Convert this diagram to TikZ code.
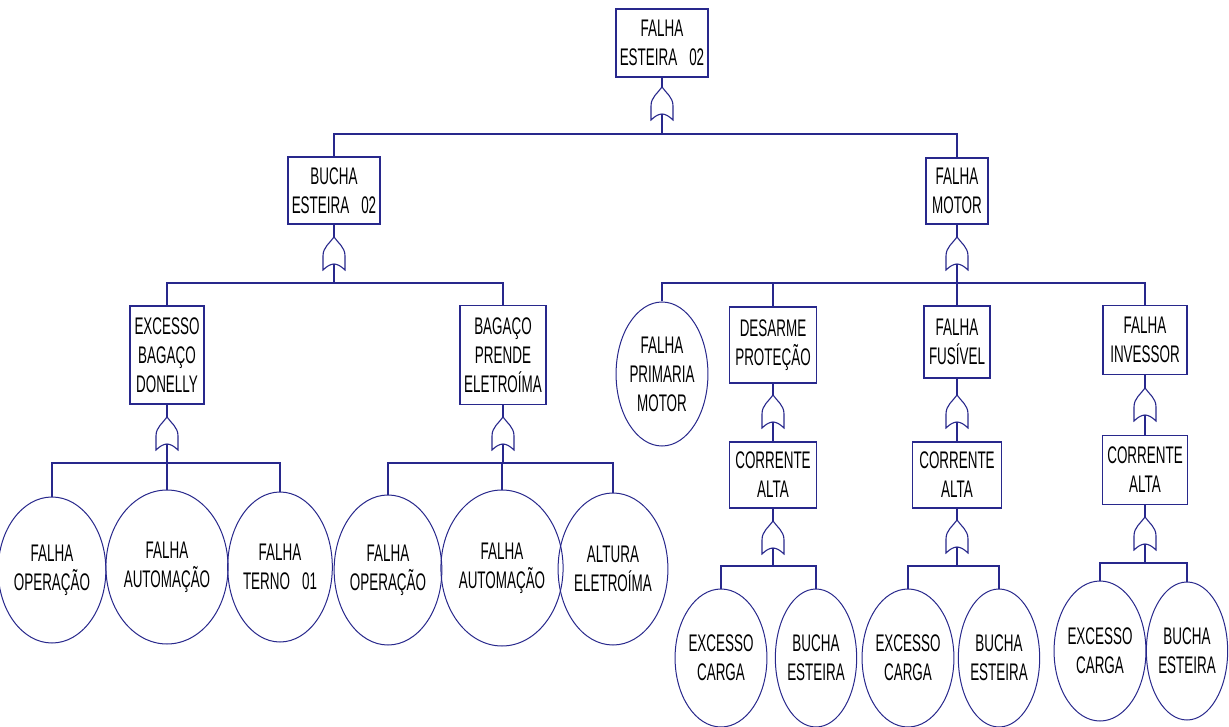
\documentclass[tikz,border=0pt]{standalone}
\usepackage{fontspec}
\setmainfont{Liberation Sans}[FakeStretch=0.56]
\usetikzlibrary{shapes.geometric}
\definecolor{lc}{RGB}{40,40,140}
\tikzset{
  txt/.style={font=\fontsize{24}{29}\selectfont, text=black, align=center, inner sep=0pt},
  box/.style={txt, rectangle, draw=lc, line width=1.3pt},
  ell/.style={txt, ellipse, draw=lc, line width=1pt},
  conn/.style={draw=lc, line width=1.3pt},
  gateline/.style={draw=lc, line width=1.1pt},
  orgate/.pic={
    \draw[gateline] (0,0) .. controls (-4,6) and (-11,10) .. (-11,19) -- (-11,33)
      .. controls (-7,29) and (-3,27) .. (0,27) .. controls (3,27) and (7,29) .. (11,33)
      -- (11,19) .. controls (11,10) and (4,6) .. (0,0) -- cycle;
    \coordinate (-top) at (0,0);
    \coordinate (-bot) at (0,27);
  }
}
\begin{document}
\begin{tikzpicture}[x=1pt,y=-1pt]
\useasboundingbox[fill=white] (0,0) rectangle (1229,727);

% level 0
\node[box, minimum width=92pt, minimum height=68pt] (T) at (662,43) {FALHA\\ESTEIRA\hspace{0.5em}02};
\pic (G0) at (662,87) {orgate};
\coordinate (b0) at (662,134);

% level 1
\node[box, minimum width=92pt, minimum height=67pt] (B) at (334,190.5) {BUCHA\\ESTEIRA\hspace{0.5em}02};
\node[box, minimum width=62pt, minimum height=66pt] (M) at (957,191) {FALHA\\MOTOR};
\pic (G1) at (334,237) {orgate};
\pic (G2) at (957,237) {orgate};
\coordinate (b1) at (334,283);
\coordinate (b2) at (957,283);

% level 2 left
\node[box, minimum width=74pt, minimum height=98pt] (E1) at (167,355) {EXCESSO\\BAGAÇO\\DONELLY};
\node[box, minimum width=86pt, minimum height=99pt] (E2) at (503,355) {BAGAÇO\\PRENDE\\ELETROÍMA};
\pic (G3) at (167,417) {orgate};
\pic (G4) at (503,417) {orgate};
\coordinate (b3) at (167,463);
\coordinate (b4) at (503,463);

\node[ell, minimum width=80pt, minimum height=146pt] (L1) at (52,570) {FALHA\\OPERAÇÃO};
\node[ell, minimum width=88pt, minimum height=154pt] (L2) at (167,567) {FALHA\\AUTOMAÇÃO};
\node[ell, minimum width=80pt, minimum height=150pt] (L3) at (280,567) {FALHA\\TERNO\hspace{0.5em}01};
\node[ell, minimum width=84pt, minimum height=150pt] (L4) at (388,570) {FALHA\\OPERAÇÃO};
\node[ell, minimum width=92pt, minimum height=156pt] (L5) at (502,568) {FALHA\\AUTOMAÇÃO};
\node[ell, minimum width=86pt, minimum height=152pt] (L6) at (613,569) {ALTURA\\ELETROÍMA};

% level 2 right
\node[ell, minimum width=78pt, minimum height=144pt] (P) at (662,374) {FALHA\\PRIMARIA\\MOTOR};
\node[box, minimum width=87pt, minimum height=76pt] (D) at (773,345) {DESARME\\PROTEÇÃO};
\node[box, minimum width=66pt, minimum height=72pt] (F) at (957,342) {FALHA\\FUSÍVEL};
\node[box, minimum width=84pt, minimum height=69pt] (I) at (1145,340) {FALHA\\INVESSOR};

\pic (G5) at (773,395) {orgate};
\pic (G7) at (957,395) {orgate};
\pic (G9) at (1145,388) {orgate};

\node[box, minimum width=87pt, minimum height=66pt] (CA1) at (773,475) {CORRENTE\\ALTA};
\node[box, minimum width=89pt, minimum height=66pt] (CA2) at (957,475) {CORRENTE\\ALTA};
\node[box, minimum width=85pt, minimum height=69pt] (CA3) at (1145,470) {CORRENTE\\ALTA};

\pic (G6) at (773,521) {orgate};
\pic (G8) at (957,520) {orgate};
\pic (G10) at (1145,517) {orgate};
\coordinate (b6) at (773,566);
\coordinate (b8) at (957,566);
\coordinate (b10) at (1145,563);

\node[ell, minimum width=74pt, minimum height=138pt] (R1) at (721,658) {EXCESSO\\CARGA};
\node[ell, minimum width=72pt, minimum height=138pt] (R2) at (816,658) {BUCHA\\ESTEIRA};
\node[ell, minimum width=72pt, minimum height=138pt] (R3) at (908,658) {EXCESSO\\CARGA};
\node[ell, minimum width=72pt, minimum height=138pt] (R4) at (999,658) {BUCHA\\ESTEIRA};
\node[ell, minimum width=76pt, minimum height=140pt] (R5) at (1100,651) {EXCESSO\\CARGA};
\node[ell, minimum width=64pt, minimum height=138pt] (R6) at (1187,651) {BUCHA\\ESTEIRA};

% connectors
\draw[conn] (T.south) -- (G0-top);
\draw[conn] (G0-bot) -- (b0);
\draw[conn] (B.north) |- (b0) -| (M.north);

\draw[conn] (B.south) -- (G1-top);
\draw[conn] (G1-bot) -- (b1);
\draw[conn] (E1.north) |- (b1) -| (E2.north);

\draw[conn] (M.south) -- (G2-top);
\draw[conn] (G2-bot) -- (F.north);
\draw[conn] (P.north) |- (b2) -| (I.north);
\draw[conn] (D.north) -- (D.north |- b2);

\draw[conn] (E1.south) -- (G3-top);
\draw[conn] (G3-bot) -- (b3);
\draw[conn] (L1.north) |- (b3) -| (L3.north);
\draw[conn] (L2.north) -- (L2.north |- b3);

\draw[conn] (E2.south) -- (G4-top);
\draw[conn] (G4-bot) -- (b4);
\draw[conn] (L4.north) |- (b4) -| (L6.north);
\draw[conn] (L5.north) -- (L5.north |- b4);

\draw[conn] (D.south) -- (G5-top);
\draw[conn] (G5-bot) -- (CA1.north);
\draw[conn] (CA1.south) -- (G6-top);
\draw[conn] (G6-bot) -- (b6);
\draw[conn] (R1.north) |- (b6) -| (R2.north);

\draw[conn] (F.south) -- (G7-top);
\draw[conn] (G7-bot) -- (CA2.north);
\draw[conn] (CA2.south) -- (G8-top);
\draw[conn] (G8-bot) -- (b8);
\draw[conn] (R3.north) |- (b8) -| (R4.north);

\draw[conn] (I.south) -- (G9-top);
\draw[conn] (G9-bot) -- (CA3.north);
\draw[conn] (CA3.south) -- (G10-top);
\draw[conn] (G10-bot) -- (b10);
\draw[conn] (R5.north) |- (b10) -| (R6.north);
\end{tikzpicture}
\end{document}
